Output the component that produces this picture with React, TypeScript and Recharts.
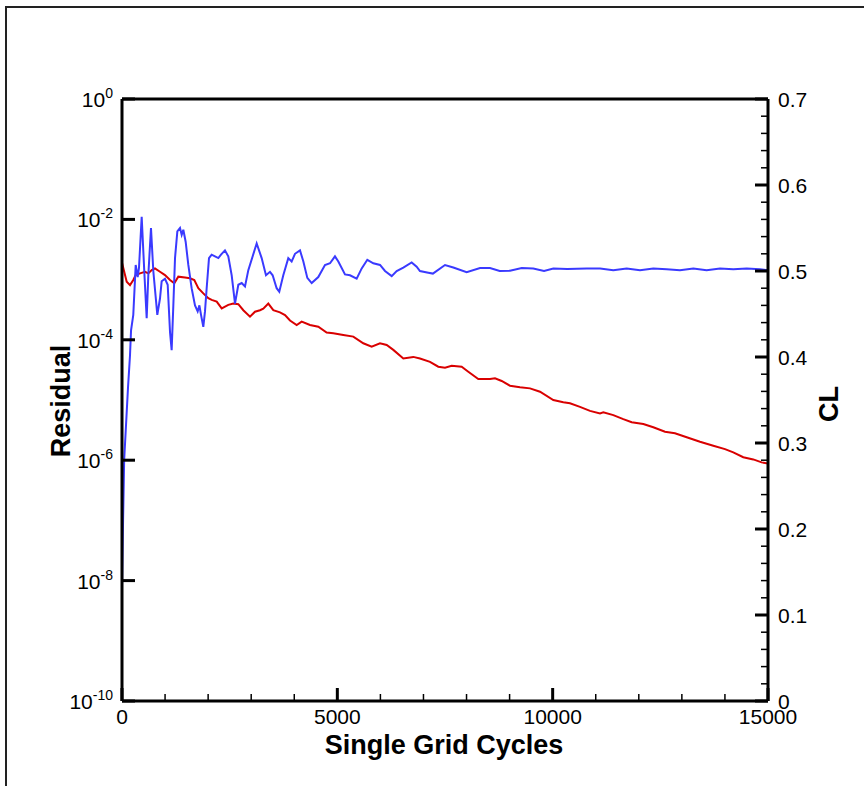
import { Line, LineChart, ReferenceLine, XAxis, YAxis } from "recharts";

// CL history (right axis)
const CL_ITER = [
  0, 25, 50, 140, 186, 210, 262, 318, 364, 395, 457, 518, 573, 611, 673, 727, 820, 882, 921, 998,
  1061, 1115, 1153, 1192, 1231, 1285, 1347, 1386, 1424, 1478, 1540, 1617, 1695, 1757, 1797, 1835,
  1888, 1927, 1966, 2020, 2082, 2159, 2237, 2299, 2391, 2468, 2547, 2624, 2701, 2779, 2856, 2933,
  3127, 3243, 3343, 3436, 3498, 3591, 3652, 3745, 3861, 3939, 4017, 4133, 4211, 4303, 4404, 4558,
  4713, 4830, 4945, 5023, 5178, 5294, 5449, 5566, 5696, 5836, 5991, 6107, 6262, 6378, 6532, 6726,
  6842, 6919, 7112, 7219, 7500, 7693, 8003, 8313, 8545, 8770, 9009, 9282, 9550, 9800, 10015, 10339,
  10790, 11102, 11408, 11718, 12028, 12337, 12647, 12956, 13266, 13575, 13885, 14194, 14505, 14814,
  15000,
];
const CL_VALUES = [
  0.133, 0.21, 0.28, 0.365, 0.402, 0.431, 0.449, 0.507, 0.493, 0.504, 0.563, 0.499, 0.445, 0.495,
  0.55, 0.5, 0.449, 0.468, 0.488, 0.491, 0.484, 0.429, 0.408, 0.46, 0.515, 0.546, 0.55, 0.542, 0.548,
  0.534, 0.507, 0.48, 0.46, 0.453, 0.46, 0.449, 0.435, 0.453, 0.48, 0.515, 0.519, 0.517, 0.515, 0.519,
  0.524, 0.517, 0.495, 0.462, 0.484, 0.486, 0.482, 0.501, 0.532, 0.515, 0.495, 0.499, 0.495, 0.48,
  0.476, 0.495, 0.515, 0.511, 0.52, 0.524, 0.511, 0.492, 0.486, 0.493, 0.507, 0.509, 0.517, 0.511,
  0.496, 0.495, 0.491, 0.503, 0.513, 0.509, 0.507, 0.5, 0.494, 0.5, 0.504, 0.51, 0.505, 0.5, 0.498,
  0.497, 0.507, 0.504, 0.4985, 0.5035, 0.5035, 0.5, 0.5003, 0.5035, 0.503, 0.5, 0.503, 0.5023, 0.503,
  0.503, 0.501, 0.503, 0.501, 0.503, 0.502, 0.501, 0.503, 0.501, 0.503, 0.502, 0.503, 0.502, 0.501,
];

// Residual history (left, log axis)
const RES_ITER = [
  0, 109, 186, 262, 318, 418, 534, 611, 690, 766, 882, 998, 1115, 1214, 1307, 1463, 1579, 1679, 1772,
  1888, 2004, 2082, 2199, 2315, 2468, 2584, 2701, 2817, 2972, 3088, 3204, 3281, 3397, 3513, 3669, 3785,
  3901, 4056, 4172, 4365, 4558, 4752, 4906, 5138, 5371, 5603, 5797, 5991, 6146, 6300, 6532, 6764, 6919,
  7152, 7344, 7500, 7655, 7887, 8041, 8273, 8545, 8661, 8816, 9009, 9241, 9474, 9706, 10015, 10247,
  10402, 10634, 10867, 11099, 11176, 11408, 11640, 11835, 12105, 12337, 12608, 12840, 13112, 13421,
  13730, 14002, 14194, 14426, 14658, 14853, 15000,
];
const RES_VALUES = [
  1.9e-3, 9.2e-4, 8.1e-4, 9.85e-4, 1.19e-3, 1.27e-3, 1.35e-3, 1.27e-3, 1.44e-3, 1.54e-3, 1.35e-3,
  1.19e-3, 9.85e-4, 8.7e-4, 1.12e-3, 1.08e-3, 1.05e-3, 9.85e-4, 7.2e-4, 5.9e-4, 4.9e-4, 4.6e-4, 4.3e-4,
  3.33e-4, 3.8e-4, 4.0e-4, 3.9e-4, 3.1e-4, 2.42e-4, 2.93e-4, 3.1e-4, 3.3e-4, 4.0e-4, 3.1e-4, 2.86e-4,
  2.58e-4, 2.09e-4, 1.76e-4, 2.0e-4, 1.76e-4, 1.65e-4, 1.32e-4, 1.28e-4, 1.2e-4, 1.13e-4, 8.75e-5,
  7.7e-5, 8.75e-5, 8.2e-5, 6.8e-5, 4.9e-5, 5.2e-5, 4.9e-5, 4.3e-5, 3.57e-5, 3.44e-5, 3.7e-5, 3.57e-5,
  2.95e-5, 2.23e-5, 2.23e-5, 2.29e-5, 2.07e-5, 1.73e-5, 1.63e-5, 1.56e-5, 1.37e-5, 1.0e-5, 9.2e-6,
  8.8e-6, 7.7e-6, 6.6e-6, 6.0e-6, 6.25e-6, 5.6e-6, 4.8e-6, 4.26e-6, 4.0e-6, 3.52e-6, 2.97e-6, 2.8e-6,
  2.4e-6, 2.03e-6, 1.74e-6, 1.53e-6, 1.35e-6, 1.12e-6, 1.03e-6, 9.2e-7, 8.8e-7,
];

// axis ticks
const RES_TICKS = [1e-10, 1e-8, 1e-6, 1e-4, 1e-2, 1];
const CL_MAJOR = [0, 0.1, 0.2, 0.3, 0.4, 0.5, 0.6, 0.7];
const CL_TICKS = Array.from({ length: 36 }, (_, i) => Math.round(i * 2) / 100);
const X_MAJOR = [0, 5000, 10000, 15000];
const X_TICKS = Array.from({ length: 16 }, (_, i) => i * 1000);

const clData = CL_ITER.map((it, i) => ({ it, v: CL_VALUES[i] }));
const resData = RES_ITER.map((it, i) => ({ it, v: RES_VALUES[i] }));

const FONT = "'Liberation Sans', Arial, Helvetica, sans-serif";
const BLUE = "#3a3aff";
const RED = "#d90000";

const ResTick = ({ x, y, payload }: any) => {
  const exp = Math.round(Math.log10(payload.value));
  return (
    <g>
      <line x1={x} x2={x + 13} y1={y} y2={y} stroke="#000" strokeWidth={3} />
      <text x={x - 9} y={y + 8} textAnchor="end" fontFamily={FONT} fontSize={21} fill="#000">
        <tspan>10</tspan>
        <tspan dy={-9} fontSize={14}>{exp}</tspan>
      </text>
    </g>
  );
};

const ClTick = ({ x, y, payload }: any) => {
  const v = payload.value;
  const major = CL_MAJOR.some((m) => Math.abs(m - v) < 1e-6);
  return (
    <g>
      <line x1={x - (major ? 13 : 7)} x2={x} y1={y} y2={y} stroke="#000" strokeWidth={major ? 3 : 1.5} />
      {major && (
        <text x={x + 10} y={y + 8} textAnchor="start" fontFamily={FONT} fontSize={21} fill="#000">
          {v === 0 ? "0" : v.toFixed(1)}
        </text>
      )}
    </g>
  );
};

const XTick = ({ x, y, payload }: any) => {
  const major = X_MAJOR.includes(payload.value);
  return (
    <g>
      <line x1={x} x2={x} y1={y - (major ? 13 : 7)} y2={y} stroke="#000" strokeWidth={major ? 3 : 1.5} />
      {major && (
        <text x={x} y={y + 23} textAnchor="middle" fontFamily={FONT} fontSize={21} fill="#000">
          {payload.value}
        </text>
      )}
    </g>
  );
};

const titleStyle = { fontFamily: FONT, fontSize: 27, fontWeight: 700, fill: "#000" };

export default function App() {
  return (
    <div style={{ position: "absolute", left: 0, top: 0, width: 864, height: 786, background: "#fff" }}>
      <div
        style={{
          position: "absolute",
          left: 5,
          top: 6,
          width: 859,
          height: 780,
          borderTop: "2px solid #222",
          borderLeft: "2px solid #222",
          boxSizing: "border-box",
        }}
      />
      <div style={{ position: "absolute", left: 0, top: 0 }}>
        <LineChart width={864} height={786} margin={{ top: 99, right: 0, bottom: 0, left: 0 }}>
          <XAxis
            dataKey="it"
            type="number"
            domain={[0, 15000]}
            ticks={X_TICKS}
            interval={0}
            allowDataOverflow
            height={85}
            tickSize={0}
            tickMargin={0}
            tickLine={false}
            axisLine={{ stroke: "#000", strokeWidth: 3 }}
            tick={<XTick />}
            label={{
              content: () => (
                <text x={444} y={754} textAnchor="middle" style={titleStyle}>
                  Single Grid Cycles
                </text>
              ),
            }}
          />
          <YAxis
            yAxisId="left"
            orientation="left"
            type="number"
            scale="log"
            domain={[1e-10, 1]}
            ticks={RES_TICKS}
            interval={0}
            allowDataOverflow
            width={122}
            tickSize={0}
            tickMargin={0}
            tickLine={false}
            axisLine={{ stroke: "#000", strokeWidth: 3 }}
            tick={<ResTick />}
            label={{
              content: () => (
                <text
                  x={60}
                  y={401}
                  dy="0.36em"
                  textAnchor="middle"
                  transform="rotate(-90 60 401)"
                  style={titleStyle}
                >
                  Residual
                </text>
              ),
            }}
          />
          <YAxis
            yAxisId="right"
            orientation="right"
            type="number"
            domain={[0, 0.7]}
            ticks={CL_TICKS}
            interval={0}
            allowDataOverflow
            width={96}
            tickSize={0}
            tickMargin={0}
            tickLine={false}
            axisLine={{ stroke: "#000", strokeWidth: 3 }}
            tick={<ClTick />}
            label={{
              content: () => (
                <text
                  x={828}
                  y={404}
                  dy="0.36em"
                  textAnchor="middle"
                  transform="rotate(-90 828 404)"
                  style={titleStyle}
                >
                  CL
                </text>
              ),
            }}
          />
          <ReferenceLine yAxisId="right" y={0.7} stroke="#000" strokeWidth={3} />
          <Line
            data={resData}
            dataKey="v"
            yAxisId="left"
            type="linear"
            stroke={RED}
            strokeWidth={2}
            dot={false}
            isAnimationActive={false}
          />
          <Line
            data={clData}
            dataKey="v"
            yAxisId="right"
            type="linear"
            stroke={BLUE}
            strokeWidth={2}
            dot={false}
            isAnimationActive={false}
          />
        </LineChart>
      </div>
    </div>
  );
}
